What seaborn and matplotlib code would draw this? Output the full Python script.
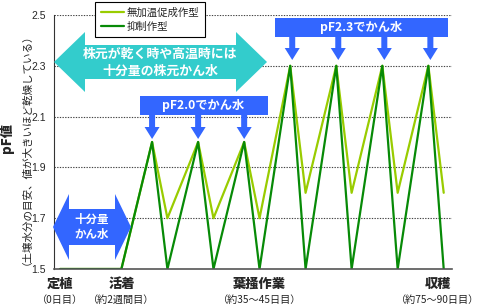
import numpy as np
import pandas as pd
import matplotlib
matplotlib.use('Agg')
import matplotlib.pyplot as plt
from matplotlib.patches import Polygon, Rectangle
from matplotlib.transforms import Affine2D, blended_transform_factory
import seaborn as sns

# ==================== DATA ====================
days = [0, 4, 6, 7, 9, 10, 12, 13, 15, 16, 18, 19, 21, 22, 24, 25]
pf_muka = [1.5, 1.5, 2.0, 1.7, 2.0, 1.7, 2.0, 1.7, 2.3, 1.8, 2.3, 1.8, 2.3, 1.8, 2.3, 1.8]
pf_yokusei = [1.5, 1.5, 2.0, 1.5, 2.0, 1.5, 2.0, 1.5, 2.3, 1.5, 2.3, 1.5, 2.3, 1.5, 2.3, 1.5]
series_names = ['無加温促成作型', '抑制作型']

yticks = [1.5, 1.7, 1.9, 2.1, 2.3, 2.5]

stage_x = [0, 4, 13, 24.6]
stage_names = ['定植', '活着', '葉掻作業', '収穫']
stage_days = ['（0日目）', '（約2週間目）', '（約35～45日目）', '（約75～90日目）']

pf20_days = [6, 9, 12]
pf23_days = [15, 18, 21, 24]

df = pd.concat([
    pd.DataFrame({'day': days, 'pF': pf_muka, '作型': series_names[0]}),
    pd.DataFrame({'day': days, 'pF': pf_yokusei, '作型': series_names[1]}),
])

# ==================== STYLE ====================
sns.set_style('white')
plt.rcParams['font.family'] = ['Noto Sans CJK JP', 'DejaVu Sans']

LIGHT = '#99CC00'
DARK = '#078A07'
CYAN = '#33CCCC'
BLUE = '#3366FF'

fig = plt.figure(figsize=(4.78, 3.06), dpi=100)
ax = fig.add_axes([54 / 478, 1 - 269 / 306, (452 - 54) / 478, (269 - 15) / 306])

# pixel coords (origin top-left) -> figure
P = Affine2D().scale(1 / 478, -1 / 306).translate(0, 1) + fig.transFigure

sns.lineplot(data=df, x='day', y='pF', hue='作型', palette=[LIGHT, DARK],
             linewidth=1.6, ax=ax, sort=False, estimator=None)

ax.set_xlim(-0.39, 25.54)
ax.set_ylim(1.5, 2.5)
ax.set_xticks([])
ax.set_yticks(yticks)
ax.set_yticklabels([f'{v:.1f}' for v in yticks], fontsize=7.5, family='Liberation Sans')
ax.tick_params(axis='y', length=3, width=0.8, pad=3, color='#333333')
ax.set_xlabel('')
ax.set_ylabel('')

for v in yticks[1:]:
    ax.axhline(v, color='#444444', linestyle=(0, (1.2, 1.2)), linewidth=0.8, zorder=0.5)

ax.spines['right'].set_visible(False)
ax.spines['top'].set_visible(False)
ax.spines['left'].set_color('#333333')
ax.spines['left'].set_linewidth(0.8)
ax.spines['bottom'].set_color('#555555')
ax.spines['bottom'].set_linewidth(1.2)

# legend
sns.move_legend(ax, 'upper left', bbox_to_anchor=(98 / 478, 1 - 5 / 306),
                bbox_transform=fig.transFigure, title=None, frameon=True,
                fontsize=7.5, handlelength=2.2, handletextpad=0.3,
                labelspacing=0.35, borderpad=0.25, borderaxespad=0)
leg = ax.get_legend()
leg.get_frame().set_edgecolor('black')
leg.get_frame().set_linewidth(0.8)
leg.get_frame().set_boxstyle('square')
leg.get_frame().set_alpha(1)
leg.set_zorder(10)

# ==================== ANNOTATIONS ====================
def px_x(xd):
    return P.inverted().transform(ax.transData.transform([[xd, 2.0]]))[0][0]


def double_arrow(x0, x1, yc, head_len, head_h, body_h, color):
    pts = [(x0, yc), (x0 + head_len, yc - head_h), (x0 + head_len, yc - body_h),
           (x1 - head_len, yc - body_h), (x1 - head_len, yc - head_h), (x1, yc),
           (x1 - head_len, yc + head_h), (x1 - head_len, yc + body_h),
           (x0 + head_len, yc + body_h), (x0 + head_len, yc + head_h)]
    ax.add_patch(Polygon(pts, closed=True, transform=P, facecolor=color,
                         edgecolor='none', clip_on=False, zorder=6))


def down_arrow(xc, y0, y1, y2, shaft_w, head_w, color):
    pts = [(xc - shaft_w, y0), (xc + shaft_w, y0), (xc + shaft_w, y1), (xc + head_w, y1),
           (xc, y2), (xc - head_w, y1), (xc - shaft_w, y1)]
    ax.add_patch(Polygon(pts, closed=True, transform=P, facecolor=color,
                         edgecolor='none', clip_on=False, zorder=6))


# cyan double arrow
double_arrow(54, 267, 62, 31, 30, 17, CYAN)
ax.text(160, 62, '株元が乾く時や高温時には\n十分量の株元かん水', transform=P,
        ha='center', va='center', color='white', fontsize=9.3, fontweight='bold',
        linespacing=1.25, zorder=7)

# blue double arrow
double_arrow(53, 131, 227, 16, 33, 18, BLUE)
ax.text(92, 227, '十分量\nかん水', transform=P, ha='center', va='center',
        color='white', fontsize=8.3, fontweight='bold', linespacing=1.15, zorder=7)

# pF2.0 box
ax.add_patch(Rectangle((140, 96), 128, 19, transform=P, facecolor=BLUE,
                       edgecolor='none', clip_on=False, zorder=6))
ax.text(203, 105.5, 'pF2.0でかん水', transform=P, ha='center', va='center',
        color='white', fontsize=8.8, fontweight='bold', zorder=7)
for d in pf20_days:
    down_arrow(px_x(d), 114, 127, 139, 3, 7.5, BLUE)

# pF2.3 box
ax.add_patch(Rectangle((275, 18), 173, 19, transform=P, facecolor=BLUE,
                       edgecolor='none', clip_on=False, zorder=6))
ax.text(361, 27.5, 'pF2.3でかん水', transform=P, ha='center', va='center',
        color='white', fontsize=8.8, fontweight='bold', zorder=7)
for d in pf23_days:
    down_arrow(px_x(d) + 2, 36, 48, 60, 3, 7.5, BLUE)

# stage labels under x axis
tr = blended_transform_factory(ax.transData, P)
for x, name, sub in zip(stage_x, stage_names, stage_days):
    ax.text(x, 284, name, transform=tr, ha='center', va='center',
            fontsize=9.5, fontweight='heavy', clip_on=False)
    ax.text(x, 300, sub, transform=tr, ha='center', va='center',
            fontsize=7.3, color='#222222', clip_on=False)

# y axis labels
fig.text(7 / 478, 1 - 138 / 306, 'pF値', rotation=90, ha='center', va='center',
         fontsize=9.5, fontweight='heavy')
fig.text(21 / 478, 1 - 144 / 306, '（土壌水分の目安、値が大きいほど乾燥している）',
         rotation=90, ha='center', va='center', fontsize=7.6, color='#222222')

plt.savefig('out.png', dpi=100)
